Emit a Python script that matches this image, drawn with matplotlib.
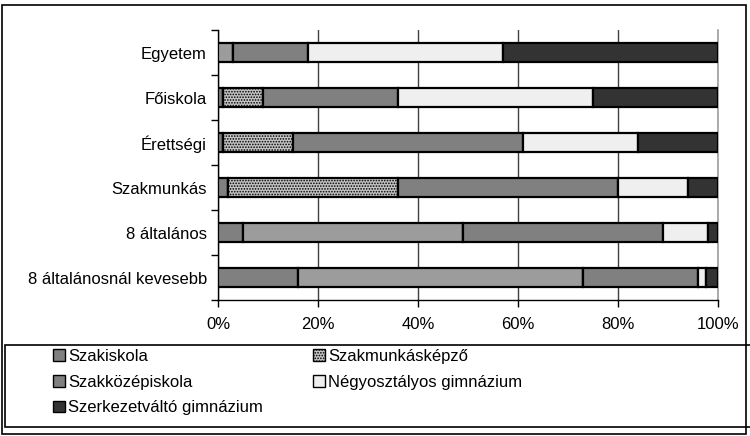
import matplotlib
matplotlib.use("Agg")
import matplotlib.pyplot as plt
from matplotlib.patches import Rectangle, Patch
import numpy as np

plt.rcParams['font.family'] = ['Liberation Sans', 'DejaVu Sans']
plt.rcParams['hatch.linewidth'] = 0.8
plt.rcParams['hatch.color'] = '#6a6a6a'

categories = ['Egyetem', 'Főiskola', 'Érettségi', 'Szakmunkás',
              '8 általános', '8 általánosnál kevesebb']
szakiskola = [0, 1, 1, 2, 5, 16]
egyeb = [3, 0, 0, 0, 44, 57]
szakmunkaskepzo = [0, 8, 14, 34, 0, 0]
szakkozepiskola = [15, 27, 46, 44, 40, 23]
negyosztalyos = [39, 39, 23, 14, 9, 1.5]
szerkezetvalto = [43, 25, 16, 6, 2, 2.5]
x_ticks = [0, 20, 40, 60, 80, 100]
x_ticklabels = ['0%', '20%', '40%', '60%', '80%', '100%']

series = [
    ('Szakiskola', szakiskola, '#808080', None),
    ('_egyéb', egyeb, '#9c9c9c', None),
    ('Szakmunkásképző', szakmunkaskepzo, '#c4c4c4', '......'),
    ('Szakközépiskola', szakkozepiskola, '#808080', None),
    ('Négyosztályos gimnázium', negyosztalyos, '#efefef', None),
    ('Szerkezetváltó gimnázium', szerkezetvalto, '#333333', None),
]

W, H = 750, 436
fig = plt.figure(figsize=(W / 100, H / 100), dpi=100)
ax = fig.add_axes([218 / W, 1 - 300 / H, 500 / W, (300 - 30) / H])

y = np.arange(len(categories))
left = np.zeros(len(categories))
handles = {}
for name, vals, color, hatch in series:
    vals = np.asarray(vals, dtype=float)
    ax.barh(y, vals, left=left, height=0.42, color=color,
            edgecolor='black', linewidth=1.6, hatch=hatch, label=name,
            zorder=3)
    handles[name] = Patch(facecolor=color, edgecolor='black', linewidth=1.0,
                          hatch=hatch)
    left += vals

ax.set_xlim(0, 100)
ax.set_ylim(len(categories) - 0.5, -0.5)
ax.set_xticks(x_ticks)
ax.set_xticklabels(x_ticklabels, fontsize=12)
ax.set_yticks(y)
ax.set_yticklabels(categories, fontsize=12)
ax.tick_params(axis='y', which='major', length=0, pad=8)
ax.set_yticks(np.arange(len(categories) + 1) - 0.5, minor=True)
ax.tick_params(axis='y', which='minor', length=5, width=1, color='black',
               direction='out')
ax.tick_params(axis='x', which='major', length=5, width=1, direction='out',
               pad=7)

ax.grid(axis='x', color='#404040', linewidth=1.0, zorder=0)
ax.spines['top'].set_visible(False)
ax.spines['right'].set_color('#a0a0a0')
ax.spines['right'].set_linewidth(1.2)
ax.spines['left'].set_color('black')
ax.spines['bottom'].set_color('black')
ax.spines['left'].set_linewidth(1.0)
ax.spines['bottom'].set_linewidth(1.0)

# outer chart frame and legend frame
fig.patches.append(Rectangle((1.5 / W, 1 - 434 / H), 744 / W, 429 / H,
                             transform=fig.transFigure, fill=False,
                             edgecolor='black', linewidth=1.2))
fig.patches.append(Rectangle((5 / W, 1 - 427 / H), 746 / W, 82 / H,
                             transform=fig.transFigure, fill=False,
                             edgecolor='black', linewidth=1.2))

order = ['Szakiskola', 'Szakközépiskola', 'Szerkezetváltó gimnázium',
         'Szakmunkásképző', 'Négyosztályos gimnázium']
leg = fig.legend([handles[n] for n in order], order, ncol=2,
                 loc='upper left', bbox_to_anchor=(48 / W, 1 - 344 / H),
                 frameon=False, fontsize=12, handlelength=0.7,
                 handleheight=0.7, handletextpad=0.2, labelspacing=0.64,
                 columnspacing=3.0, borderaxespad=0, borderpad=0.3)

fig.savefig('out.png', dpi=100)
